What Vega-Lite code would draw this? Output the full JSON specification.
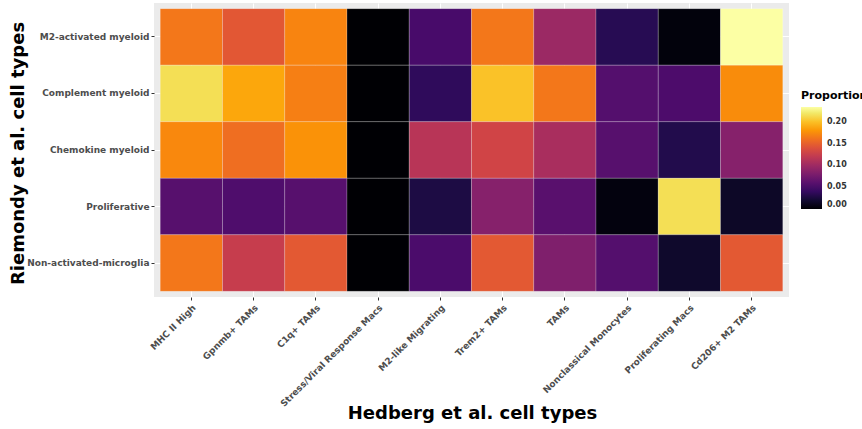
{
  "$schema": "https://vega.github.io/schema/vega-lite/v6.json",
  "autosize": {"type": "none"},
  "width": 635,
  "height": 294,
  "padding": {"left": 154, "top": 3, "right": 73, "bottom": 132},
  "background": "white",
  "config": {
    "font": "DejaVu Sans",
    "view": {"fill": "#ebebeb", "stroke": null}
  },
  "data": {
    "values": [
      {"hedberg": "MHC II High", "riemondy": "M2-activated myeloid", "proportion": 0.164},
      {"hedberg": "Gpnmb+ TAMs", "riemondy": "M2-activated myeloid", "proportion": 0.145},
      {"hedberg": "C1q+ TAMs", "riemondy": "M2-activated myeloid", "proportion": 0.171},
      {"hedberg": "Stress/Viral Response Macs", "riemondy": "M2-activated myeloid", "proportion": 0.0},
      {"hedberg": "M2-like Migrating", "riemondy": "M2-activated myeloid", "proportion": 0.05},
      {"hedberg": "Trem2+ TAMs", "riemondy": "M2-activated myeloid", "proportion": 0.164},
      {"hedberg": "TAMs", "riemondy": "M2-activated myeloid", "proportion": 0.098},
      {"hedberg": "Nonclassical Monocytes", "riemondy": "M2-activated myeloid", "proportion": 0.033},
      {"hedberg": "Proliferating Macs", "riemondy": "M2-activated myeloid", "proportion": 0.004},
      {"hedberg": "Cd206+ M2 TAMs", "riemondy": "M2-activated myeloid", "proportion": 0.234},

      {"hedberg": "MHC II High", "riemondy": "Complement myeloid", "proportion": 0.215},
      {"hedberg": "Gpnmb+ TAMs", "riemondy": "Complement myeloid", "proportion": 0.188},
      {"hedberg": "C1q+ TAMs", "riemondy": "Complement myeloid", "proportion": 0.168},
      {"hedberg": "Stress/Viral Response Macs", "riemondy": "Complement myeloid", "proportion": 0.0},
      {"hedberg": "M2-like Migrating", "riemondy": "Complement myeloid", "proportion": 0.037},
      {"hedberg": "Trem2+ TAMs", "riemondy": "Complement myeloid", "proportion": 0.201},
      {"hedberg": "TAMs", "riemondy": "Complement myeloid", "proportion": 0.164},
      {"hedberg": "Nonclassical Monocytes", "riemondy": "Complement myeloid", "proportion": 0.057},
      {"hedberg": "Proliferating Macs", "riemondy": "Complement myeloid", "proportion": 0.053},
      {"hedberg": "Cd206+ M2 TAMs", "riemondy": "Complement myeloid", "proportion": 0.175},

      {"hedberg": "MHC II High", "riemondy": "Chemokine myeloid", "proportion": 0.173},
      {"hedberg": "Gpnmb+ TAMs", "riemondy": "Chemokine myeloid", "proportion": 0.159},
      {"hedberg": "C1q+ TAMs", "riemondy": "Chemokine myeloid", "proportion": 0.178},
      {"hedberg": "Stress/Viral Response Macs", "riemondy": "Chemokine myeloid", "proportion": 0.0},
      {"hedberg": "M2-like Migrating", "riemondy": "Chemokine myeloid", "proportion": 0.115},
      {"hedberg": "Trem2+ TAMs", "riemondy": "Chemokine myeloid", "proportion": 0.131},
      {"hedberg": "TAMs", "riemondy": "Chemokine myeloid", "proportion": 0.106},
      {"hedberg": "Nonclassical Monocytes", "riemondy": "Chemokine myeloid", "proportion": 0.059},
      {"hedberg": "Proliferating Macs", "riemondy": "Chemokine myeloid", "proportion": 0.03},
      {"hedberg": "Cd206+ M2 TAMs", "riemondy": "Chemokine myeloid", "proportion": 0.086},

      {"hedberg": "MHC II High", "riemondy": "Proliferative", "proportion": 0.059},
      {"hedberg": "Gpnmb+ TAMs", "riemondy": "Proliferative", "proportion": 0.054},
      {"hedberg": "C1q+ TAMs", "riemondy": "Proliferative", "proportion": 0.059},
      {"hedberg": "Stress/Viral Response Macs", "riemondy": "Proliferative", "proportion": 0.0},
      {"hedberg": "M2-like Migrating", "riemondy": "Proliferative", "proportion": 0.027},
      {"hedberg": "Trem2+ TAMs", "riemondy": "Proliferative", "proportion": 0.086},
      {"hedberg": "TAMs", "riemondy": "Proliferative", "proportion": 0.06},
      {"hedberg": "Nonclassical Monocytes", "riemondy": "Proliferative", "proportion": 0.005},
      {"hedberg": "Proliferating Macs", "riemondy": "Proliferative", "proportion": 0.215},
      {"hedberg": "Cd206+ M2 TAMs", "riemondy": "Proliferative", "proportion": 0.016},

      {"hedberg": "MHC II High", "riemondy": "Non-activated-microglia", "proportion": 0.164},
      {"hedberg": "Gpnmb+ TAMs", "riemondy": "Non-activated-microglia", "proportion": 0.124},
      {"hedberg": "C1q+ TAMs", "riemondy": "Non-activated-microglia", "proportion": 0.146},
      {"hedberg": "Stress/Viral Response Macs", "riemondy": "Non-activated-microglia", "proportion": 0.0},
      {"hedberg": "M2-like Migrating", "riemondy": "Non-activated-microglia", "proportion": 0.052},
      {"hedberg": "Trem2+ TAMs", "riemondy": "Non-activated-microglia", "proportion": 0.146},
      {"hedberg": "TAMs", "riemondy": "Non-activated-microglia", "proportion": 0.082},
      {"hedberg": "Nonclassical Monocytes", "riemondy": "Non-activated-microglia", "proportion": 0.057},
      {"hedberg": "Proliferating Macs", "riemondy": "Non-activated-microglia", "proportion": 0.018},
      {"hedberg": "Cd206+ M2 TAMs", "riemondy": "Non-activated-microglia", "proportion": 0.146}
    ]
  },
  "mark": {"type": "rect", "stroke": "white", "strokeOpacity": 0.35, "strokeWidth": 0.6},
  "encoding": {
    "x": {
      "field": "hedberg",
      "type": "nominal",
      "sort": ["MHC II High", "Gpnmb+ TAMs", "C1q+ TAMs", "Stress/Viral Response Macs", "M2-like Migrating", "Trem2+ TAMs", "TAMs", "Nonclassical Monocytes", "Proliferating Macs", "Cd206+ M2 TAMs"],
      "scale": {"paddingInner": 0, "paddingOuter": 0.1},
      "axis": {
        "zindex": 0,
        "title": "Hedberg et al. cell types",
        "titleFont": "DejaVu Sans",
        "titleFontSize": 18,
        "titleFontWeight": "bold",
        "titleColor": "black",
        "titleX": 318,
        "titleY": 116,
        "titleBaseline": "middle",
        "titleAnchor": "middle",
        "labelAngle": -45,
        "labelAlign": "right",
        "labelBaseline": "top",
        "labelFontSize": 9,
        "labelFontWeight": "bold",
        "labelColor": "#4d4d4d",
        "labelPadding": 3,
        "tickColor": "#333333",
        "tickSize": 3,
        "domain": false,
        "grid": true,
        "gridColor": "white",
        "gridWidth": 1,
        "bandPosition": 0.5
      }
    },
    "y": {
      "field": "riemondy",
      "type": "nominal",
      "sort": ["M2-activated myeloid", "Complement myeloid", "Chemokine myeloid", "Proliferative", "Non-activated-microglia"],
      "scale": {"paddingInner": 0, "paddingOuter": 0.1},
      "axis": {
        "zindex": 0,
        "title": "Riemondy et al. cell types",
        "titleFont": "DejaVu Sans",
        "titleFontSize": 18,
        "titleFontWeight": "bold",
        "titleColor": "black",
        "titleAngle": -90,
        "titleX": -136,
        "titleY": 150,
        "titleBaseline": "middle",
        "titleAlign": "center",
        "labelFontSize": 9,
        "labelFontWeight": "bold",
        "labelColor": "#4d4d4d",
        "labelPadding": 2,
        "tickColor": "#333333",
        "tickSize": 3,
        "domain": false,
        "grid": true,
        "gridColor": "white",
        "gridWidth": 1,
        "bandPosition": 0.5
      }
    },
    "color": {
      "field": "proportion",
      "type": "quantitative",
      "scale": {"scheme": "inferno", "domain": [0, 0.234]},
      "legend": {
        "title": "Proportion",
        "titleFont": "DejaVu Sans",
        "titleFontSize": 11,
        "titleFontWeight": "bold",
        "titleColor": "black",
        "titlePadding": 6,
        "orient": "none",
        "legendX": 647,
        "legendY": 87,
        "direction": "vertical",
        "gradientLength": 102,
        "gradientThickness": 21,
        "gradientStrokeWidth": 0,
        "values": [0, 0.05, 0.1, 0.15, 0.2],
        "format": ".2f",
        "labelFontSize": 8,
        "labelFontWeight": "bold",
        "labelColor": "#333333",
        "labelOffset": 5
      }
    }
  }
}
